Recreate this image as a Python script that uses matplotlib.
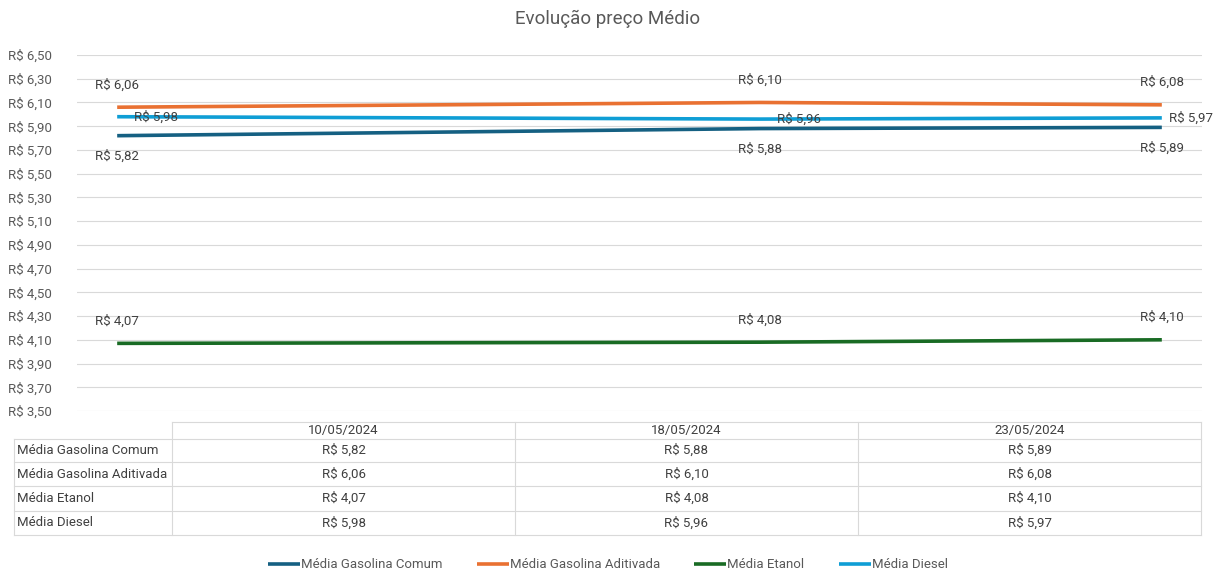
import matplotlib.pyplot as plt
import matplotlib.dates as mdates
import numpy as np
import pandas as pd

plt.rcParams['font.family'] = ['Roboto', 'DejaVu Sans']

# Data
dates = ['10/05/2024', '18/05/2024', '23/05/2024']
series_names = ['Média Gasolina Comum', 'Média Gasolina Aditivada', 'Média Etanol', 'Média Diesel']
comum = [5.82, 5.88, 5.89]
aditivada = [6.06, 6.10, 6.08]
etanol = [4.07, 4.08, 4.10]
diesel = [5.98, 5.96, 5.97]

colors = ['#156082', '#E97132', '#196B24', '#0F9ED5']
# where the data labels go for each series
label_pos = ['below', 'above', 'above', 'right']

W, H = 1216, 586
fig = plt.figure(figsize=(W / 100, H / 100), dpi=100)

# main axes, placed in pixel terms
left, right, top, bottom = 77, 1202, 55, 411
ax = fig.add_axes([left / W, 1 - bottom / H, (right - left) / W, (bottom - top) / H])

x = pd.to_datetime(dates, format='%d/%m/%Y')
xn = mdates.date2num(x)

all_series = [comum, aditivada, etanol, diesel]
for vals, col, pos in zip(all_series, colors, label_pos):
    ax.plot(xn, vals, color=col, lw=2.6, solid_capstyle='butt', zorder=3)
    for k, (xi, v) in enumerate(zip(xn, vals)):
        txt = 'R$ ' + f'{v:.2f}'.replace('.', ',')
        if pos == 'below':
            ax.annotate(txt, (xi, v), xytext=(0, -15), textcoords='offset points',
                        ha='center', va='center', fontsize=9.5, color='#404040')
        elif pos == 'above':
            ax.annotate(txt, (xi, v), xytext=(0, 16), textcoords='offset points',
                        ha='center', va='center', fontsize=9.5, color='#404040')
        else:
            # last label is pushed back in so it stays inside the chart
            dx = 12 if k < len(vals) - 1 else 5
            ax.annotate(txt, (xi, v), xytext=(dx, 0), textcoords='offset points',
                        ha='left', va='center', fontsize=9.5, color='#404040')

ax.set_xlim(xn[0] - 0.5, xn[-1] + 0.5)
ax.set_ylim(3.5, 6.5)
yt = np.arange(3.5, 6.51, 0.2)
ax.set_yticks(yt)
ax.set_yticklabels(['R$ ' + f'{t:.2f}'.replace('.', ',') for t in yt], color='#595959', fontsize=9.5)
ax.tick_params(axis='y', length=0, pad=18)
ax.set_xticks([])
ax.grid(axis='y', color='#D9D9D9', lw=0.8)
ax.set_axisbelow(True)
for s in ax.spines.values():
    s.set_visible(False)

fig.text(0.5, 1 - 19 / H, 'Evolução preço Médio', ha='center', va='center',
         fontsize=13.5, color='#595959')

# data table under the chart, drawn in pixel coordinates
tb = fig.add_axes([0, 0, 1, 1])
tb.set_xlim(0, W)
tb.set_ylim(H, 0)
tb.axis('off')
col_edges = [14, 172, 515, 858, 1201]
row_edges = [422, 439, 462, 486, 511, 535]
gc = '#D9D9D9'
# horizontal lines
tb.plot([col_edges[1], col_edges[-1]], [row_edges[0]] * 2, color=gc, lw=0.8)
for ry in row_edges[1:]:
    tb.plot([col_edges[0], col_edges[-1]], [ry, ry], color=gc, lw=0.8)
# vertical lines
tb.plot([col_edges[0]] * 2, [row_edges[1], row_edges[-1]], color=gc, lw=0.8)
for cx in col_edges[1:]:
    tb.plot([cx, cx], [row_edges[0], row_edges[-1]], color=gc, lw=0.8)

for j, d in enumerate(dates):
    cx = (col_edges[j + 1] + col_edges[j + 2]) / 2
    tb.text(cx, (row_edges[0] + row_edges[1]) / 2, d, ha='center', va='center',
            fontsize=9.5, color='#404040')
for i, (name, vals) in enumerate(zip(series_names, all_series)):
    cy = (row_edges[i + 1] + row_edges[i + 2]) / 2
    tb.text(col_edges[0] + 3, cy, name, ha='left', va='center', fontsize=9.5, color='#404040')
    for j, v in enumerate(vals):
        cx = (col_edges[j + 1] + col_edges[j + 2]) / 2
        tb.text(cx, cy, 'R$ ' + f'{v:.2f}'.replace('.', ','), ha='center', va='center',
                fontsize=9.5, color='#404040')

handles = ax.get_lines()[:4]
fig.legend(handles, series_names, loc='center', bbox_to_anchor=(0.5, 1 - 565 / H),
           ncol=4, frameon=False, fontsize=9.5, handlelength=2.4, handletextpad=0.1,
           columnspacing=2.6, labelcolor='#595959')

fig.savefig('out.png', dpi=100)
